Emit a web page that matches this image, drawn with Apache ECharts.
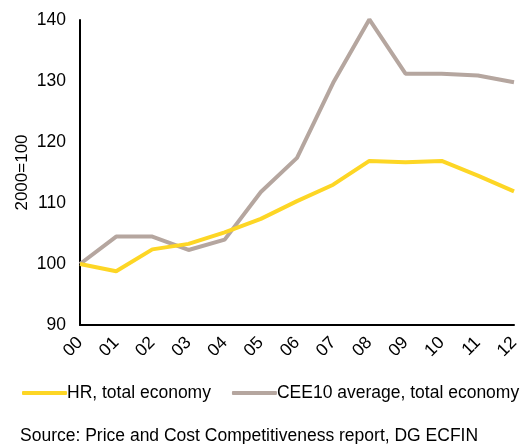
<!DOCTYPE html>
<html><head><meta charset="utf-8">
<script src="https://cdn.jsdelivr.net/npm/echarts@6/dist/echarts.min.js"></script>
<style>html,body{margin:0;padding:0;background:#fff}#c{width:526px;height:444px}</style>
</head><body><div id="c"></div>
<script>
const categories = ['00','01','02','03','04','05','06','07','08','09','10','11','12'];
const hrTotal = [100, 98.8, 102.4, 103.3, 105.2, 107.4, 110.3, 113.0, 116.9, 116.7, 116.9, 114.5, 111.9];
const cee10Avg = [100, 104.5, 104.5, 102.3, 104.0, 111.8, 117.4, 129.7, 140.1, 131.2, 131.2, 130.9, 129.8];
const seriesNames = ['HR, total economy', 'CEE10 average, total economy'];
const yAxisName = '2000=100';
const sourceText = 'Source: Price and Cost Competitiveness report, DG ECFIN';

const font = 'Liberation Sans, Arial, sans-serif';
const fs = 17.5;
const chart = echarts.init(document.getElementById('c'));
chart.setOption({
  animation: false,
  textStyle: {fontFamily: font},
  grid: {left: 80, right: 12, top: 20, bottom: 119, containLabel: false},
  legend: {
    left: 17, top: 379,
    itemWidth: 45, itemHeight: 4, itemGap: 21,
    icon: 'roundRect',
    textStyle: {fontSize: fs, color: '#000', fontFamily: font, padding: [0,0,0,-5]},
    data: seriesNames
  },
  graphic: [{
    type: 'text', left: 20, top: 427,
    style: {text: sourceText, font: fs + 'px ' + font, fill: '#000'}
  }],
  xAxis: {
    type: 'category', data: categories, boundaryGap: false,
    axisLine: {lineStyle: {color: '#000', width: 2}},
    axisTick: {show: false},
    axisLabel: {rotate: 45, fontSize: fs, color: '#000', margin: 15, fontFamily: font}
  },
  yAxis: {
    type: 'value', min: 90, max: 140, interval: 10,
    name: yAxisName, nameLocation: 'middle', nameGap: 49, nameMoveOverlap: false,
    nameTextStyle: {fontSize: 17, color: '#000', fontFamily: font},
    axisLine: {show: true, lineStyle: {color: '#000', width: 2}},
    axisTick: {show: false},
    splitLine: {show: false},
    axisLabel: {fontSize: fs, color: '#000', margin: 14, fontFamily: font}
  },
  series: [
    {name: seriesNames[0], type: 'line', data: hrTotal, showSymbol: false, symbol: 'none',
     lineStyle: {color: '#FDD625', width: 4}, itemStyle: {color: '#FDD625'}, z: 3},
    {name: seriesNames[1], type: 'line', data: cee10Avg, showSymbol: false, symbol: 'none',
     lineStyle: {color: '#B5A69F', width: 4}, itemStyle: {color: '#B5A69F'}, z: 2}
  ]
});
</script></body></html>
